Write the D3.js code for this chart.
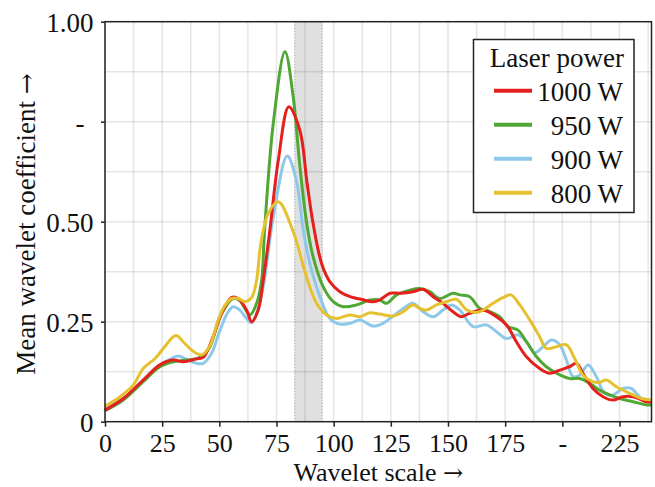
<!DOCTYPE html>
<html><head><meta charset="utf-8">
<script src="https://cdn.jsdelivr.net/npm/d3@7"></script>
<style>
html,body{margin:0;padding:0;background:#fff;}
svg{display:block;font-family:"Liberation Serif","Times New Roman",serif;}
</style></head>
<body><svg id="chart" width="655" height="487"></svg>
<script>
// ---- data ----
const xTickValues = [0,25,50,75,100,125,150,175,200,225];
const xTickLabels = ["0","25","50","75","100","125","150","175","-","225"];
const yTickValues = [0,0.25,0.5,0.75,1.0];
const yTickLabels = ["0","0.25","0.50","-","1.00"];
const seriesNames = ["1000 W","950 W","900 W","800 W"];
const bandRange = [83,95];

const p1000 = [[0,0.029],[8,0.058],[16.7,0.104],[24,0.142],[29.9,0.154],[34.2,0.15],[40.1,0.157],[43,0.161],[47.3,0.2125],[51,0.271],[55.4,0.311],[58.3,0.308],[61.9,0.279],[64.1,0.25],[67,0.279],[69.2,0.354],[72.1,0.479],[75.8,0.654],[80.4,0.7875],[85.2,0.729],[88.3,0.6],[91,0.496],[94.7,0.396],[98.3,0.35],[102.7,0.325],[107.5,0.312],[112,0.306],[117.3,0.3],[120,0.304],[124.6,0.321],[129.5,0.321],[134.7,0.325],[139.1,0.331],[143.5,0.3125],[147.8,0.296],[152.2,0.275],[155.6,0.2625],[159.5,0.271],[165.3,0.279],[171.2,0.2625],[175.6,0.242],[179.9,0.2],[184.3,0.1625],[190.1,0.133],[194.5,0.121],[198.9,0.129],[203.2,0.1375],[206.2,0.146],[209,0.121],[213.4,0.083],[217.8,0.0625],[222.2,0.054],[226.5,0.0625],[230.9,0.0625],[236.8,0.05],[239,0.05]];
const p950 = [[0,0.0275],[8,0.054],[16.7,0.1],[24,0.1375],[29.9,0.15],[35.7,0.154],[41.5,0.161],[45.9,0.1875],[50.3,0.2625],[56.1,0.308],[59,0.3025],[63.4,0.267],[66.3,0.296],[68.5,0.354],[69.8,0.479],[73.6,0.746],[78.7,0.925],[82.3,0.8125],[85.2,0.64],[88.1,0.5],[91,0.4125],[95.4,0.3375],[99.8,0.3],[104.2,0.2875],[110,0.292],[115.8,0.304],[120.2,0.304],[123.1,0.296],[127.5,0.317],[133.3,0.329],[137.7,0.333],[142,0.325],[146.4,0.308],[152.2,0.321],[155.2,0.317],[159.5,0.3125],[163.9,0.283],[168.3,0.275],[172.6,0.2625],[176.3,0.2375],[180.6,0.229],[184.3,0.2],[188.7,0.1625],[193,0.1375],[198.9,0.117],[203.2,0.108],[207.6,0.108],[212,0.096],[216.3,0.079],[220.7,0.067],[225.1,0.058],[230.9,0.05],[236.8,0.042],[239,0.042]];
const p900 = [[0,0.033],[8,0.058],[16.7,0.104],[24,0.142],[29.1,0.158],[32,0.164],[35.7,0.156],[40.1,0.146],[43,0.146],[46.6,0.171],[50.3,0.229],[53.9,0.275],[56.1,0.2875],[59,0.279],[61.9,0.258],[64.1,0.2475],[66.3,0.271],[69.2,0.3375],[73.6,0.5125],[79.7,0.664],[83.8,0.6],[86.7,0.479],[89.6,0.396],[94,0.3125],[98.3,0.258],[102.7,0.244],[107.1,0.246],[111.5,0.254],[117.3,0.239],[121.6,0.246],[126,0.264],[130.4,0.283],[134.7,0.296],[139.1,0.275],[143.5,0.2625],[147.8,0.279],[151.5,0.292],[155.2,0.279],[161,0.2375],[166.8,0.242],[171.2,0.225],[175.6,0.208],[180.6,0.217],[184.3,0.2],[187.9,0.1725],[191.6,0.1875],[195.2,0.204],[198.9,0.192],[201.8,0.154],[204.7,0.1125],[207.6,0.117],[211.3,0.142],[214.9,0.1125],[218.5,0.071],[222.2,0.067],[226.5,0.083],[230.2,0.083],[234.6,0.058],[239,0.0525]];
const p800 = [[0,0.039],[6.6,0.0625],[12.4,0.092],[16.7,0.133],[21.9,0.158],[25.5,0.183],[29.9,0.2125],[31.5,0.215],[34.2,0.2],[37.9,0.179],[42.3,0.167],[45.9,0.19],[49.5,0.254],[52.4,0.29],[55.4,0.308],[58.3,0.308],[61.2,0.3],[64.1,0.31],[66.3,0.354],[68,0.44],[71.4,0.521],[75.8,0.55],[82.3,0.475],[88.1,0.3625],[92.5,0.296],[96.9,0.267],[101.3,0.258],[107.1,0.267],[111.5,0.2625],[115.8,0.2725],[120.2,0.269],[126,0.264],[130.4,0.275],[134.7,0.292],[137.7,0.283],[140.6,0.279],[145,0.292],[149.3,0.3],[153.7,0.306],[158.1,0.28],[162.5,0.273],[165,0.278],[169.7,0.296],[174,0.31],[177.5,0.317],[181.4,0.292],[185.8,0.254],[190.1,0.2125],[193,0.183],[197.4,0.1875],[201.8,0.192],[205.4,0.158],[209,0.117],[213.4,0.1],[216,0.098],[219.3,0.104],[223.6,0.0875],[229.5,0.071],[234.6,0.058],[239,0.054]];
const seriesData = [p1000,p950,p900,p800];
const seriesColors = ["#e4201c","#50a834","#8ec8e8","#e5c12f"];

// ---- chart ----
const svg = d3.select("#chart");
const L=105, R=651.5, T=21.7, B=421.7;
const x = d3.scaleLinear().domain([0,239]).range([L,R]);
const y = d3.scaleLinear().domain([0,1]).range([B,T]);

// band
svg.append("rect").attr("x",x(bandRange[0])).attr("y",T).attr("width",x(bandRange[1])-x(bandRange[0])).attr("height",B-T).attr("fill","#e0e0e0");
bandRange.forEach(v=>svg.append("line").attr("x1",x(v)).attr("x2",x(v)).attr("y1",T).attr("y2",B).attr("stroke","#aaa").attr("stroke-width",1).attr("stroke-dasharray","1.5,1.5"));

// grid
const gx = d3.range(0,239,12.5), gy = d3.range(0.125,1,0.125);
svg.append("g").selectAll("line").data(gx).join("line").attr("x1",d=>x(d)).attr("x2",d=>x(d)).attr("y1",T).attr("y2",B).attr("stroke","rgba(0,0,0,0.1)").attr("stroke-width",1.5);
svg.append("g").selectAll("line").data(gy).join("line").attr("y1",d=>y(d)).attr("y2",d=>y(d)).attr("x1",L).attr("x2",R).attr("stroke","rgba(0,0,0,0.1)").attr("stroke-width",1.5);

// lines
const line = d3.line().x(d=>x(d[0])).y(d=>y(d[1])).curve(d3.curveCatmullRom.alpha(0.5));
const order = [2,1,0,3];
order.forEach(i=>{
  svg.append("path").datum(seriesData[i]).attr("d",line).attr("fill","none").attr("stroke",seriesColors[i]).attr("stroke-width",3).attr("stroke-linejoin","round");
});

// frame
svg.append("rect").attr("x",L).attr("y",T).attr("width",R-L).attr("height",B-T).attr("fill","none").attr("stroke","#222").attr("stroke-width",1.5);

// axes
const xAxis = d3.axisBottom(x).tickValues(xTickValues).tickFormat((d,i)=>xTickLabels[i]).tickSize(5).tickPadding(6.5).tickSizeOuter(0);
const gxA = svg.append("g").attr("transform",`translate(0,${B})`).call(xAxis);
const yAxis = d3.axisLeft(y).tickValues(yTickValues).tickFormat((d,i)=>yTickLabels[i]).tickSize(4).tickPadding(7.5).tickSizeOuter(0);
const gyA = svg.append("g").attr("transform",`translate(${L},0)`).call(yAxis);
[gxA,gyA].forEach(g=>{
  g.select(".domain").remove();
  g.selectAll(".tick line").attr("stroke","#222").attr("stroke-width",1.5);
  g.selectAll(".tick text").attr("fill","#111").style("font-family","Liberation Serif").style("font-size","27px");
});
gxA.selectAll(".tick text").style("font-size","26px");
gyA.selectAll(".tick text").attr("dy","0.36em").filter(d=>d===0.75).attr("dx","-9");

// axis titles
const xt = svg.append("text").attr("x",(L+R)/2).attr("y",480.5).attr("text-anchor","middle").attr("fill","#111").style("font-size","26px");
xt.append("tspan").text("Wavelet scale ");
xt.append("tspan").style("font-family","DejaVu Serif").style("font-size","24px").text("→");
const yt = svg.append("text").attr("transform",`translate(35,224) rotate(-90)`).attr("text-anchor","middle").attr("fill","#111").style("font-size","27px");
yt.append("tspan").text("Mean wavelet coefficient ");
yt.append("tspan").style("font-family","DejaVu Serif").style("font-size","25px").text("→");

// legend
const lg = svg.append("g");
lg.append("rect").attr("x",473.5).attr("y",39.5).attr("width",160.5).attr("height",173).attr("fill","#fff").attr("stroke","#222").attr("stroke-width",1.5);
lg.append("text").attr("x",624).attr("y",67).attr("text-anchor","end").attr("fill","#111").style("font-size","27px").text("Laser power");
seriesNames.forEach((n,i)=>{
  const by = 101 + i*34;
  lg.append("line").attr("x1",494).attr("x2",532).attr("y1",by-10.3).attr("y2",by-10.3).attr("stroke",seriesColors[i]).attr("stroke-width",4);
  lg.append("text").attr("x",623).attr("y",by).attr("text-anchor","end").attr("fill","#111").style("font-size","27px").text(n);
});
</script></body></html>
